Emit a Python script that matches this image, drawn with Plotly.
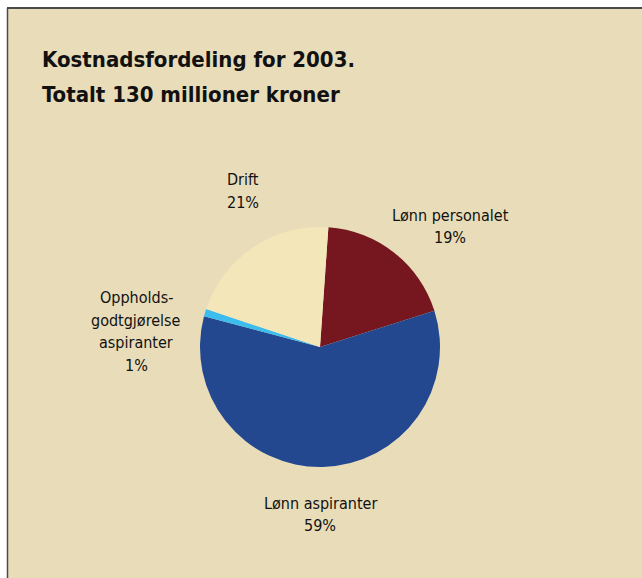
import plotly.graph_objects as go

# Data
categories = ["Lønn personalet", "Lønn aspiranter", "Oppholds-<br>godtgjørelse<br>aspiranter", "Drift"]
values = [19, 59, 1, 21]
colors = ["#76161F", "#23488F", "#3CBDEE", "#F3E7BA"]

W, H = 642, 578
BG = "#E8DCB9"
OX, OY = 8, 8  # offset of the beige panel inside the page

# label block centres (pixels from top-left of the panel), one per category
label_px = [(442, 218.5), (312, 506.5), (128, 323.5), (235, 183)]
LINE_GAP = 22.5

fig = go.Figure()
fig.add_trace(go.Pie(
    labels=categories,
    values=values,
    sort=False,
    direction="clockwise",
    rotation=4,
    marker=dict(colors=colors, line=dict(width=0)),
    textinfo="none",
    hoverinfo="label+percent",
    showlegend=False,
    domain=dict(x=[(OX + 192) / W, (OX + 432) / W],
                y=[1 - (OY + 459) / H, 1 - (OY + 219) / H]),
))

font_lbl = dict(family="DejaVu Sans Condensed, sans-serif", size=16, color="#111111")
for cat, val, (px, py) in zip(categories, values, label_px):
    lines = cat.split("<br>") + [f"{val}%"]
    n = len(lines)
    for i, line in enumerate(lines):
        ly = OY + py + (i - (n - 1) / 2) * LINE_GAP
        fig.add_annotation(
            x=(OX + px) / W, y=1 - ly / H, xref="paper", yref="paper",
            text=line, showarrow=False, font=font_lbl,
            xanchor="center", yanchor="middle",
        )

title_font = dict(family="DejaVu Sans Condensed, sans-serif", size=22, color="#111111")
fig.add_annotation(x=(OX + 32) / W, y=1 - (OY + 51) / H, xref="paper", yref="paper",
                   text="<b>Kostnadsfordeling for 2003.</b>", showarrow=False,
                   font=title_font, xanchor="left", yanchor="middle")
fig.add_annotation(x=(OX + 32) / W, y=1 - (OY + 86.5) / H, xref="paper", yref="paper",
                   text="<b>Totalt 130 millioner kroner</b>", showarrow=False,
                   font=title_font, xanchor="left", yanchor="middle")

# white page margin at top and left, plus thin dark frame lines
fig.add_shape(type="rect", xref="paper", yref="paper", x0=0, x1=1, y0=1 - OY / H, y1=1,
              fillcolor="white", line=dict(width=0), layer="below")
fig.add_shape(type="rect", xref="paper", yref="paper", x0=0, x1=(OX - 1) / W, y0=0, y1=1,
              fillcolor="white", line=dict(width=0), layer="below")
fig.add_shape(type="line", xref="paper", yref="paper", x0=(OX - 1) / W, x1=1,
              y0=1 - OY / H, y1=1 - OY / H,
              line=dict(color="#4A4A4A", width=2), layer="above")
fig.add_shape(type="line", xref="paper", yref="paper", x0=(OX - 0.5) / W, x1=(OX - 0.5) / W,
              y0=0, y1=1 - OY / H,
              line=dict(color="#4A4A4A", width=1.5), layer="above")

fig.update_layout(
    width=W, height=H,
    margin=dict(l=0, r=0, t=0, b=0),
    paper_bgcolor=BG, plot_bgcolor=BG,
)

fig.write_html(
    "out.html",
    config={"displayModeBar": False},
    post_script="document.body.style.margin='0';document.documentElement.style.overflow='hidden';",
)
